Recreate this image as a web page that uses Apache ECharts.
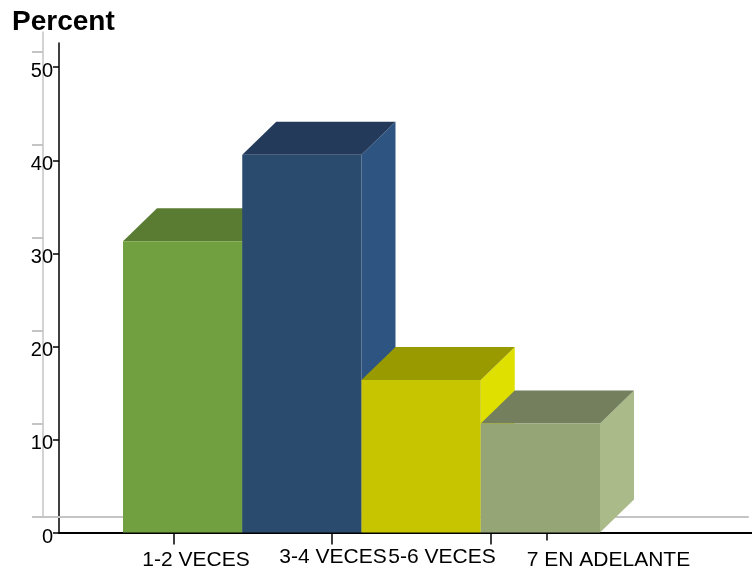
<!DOCTYPE html>
<html>
<head>
<meta charset="utf-8">
<script src="https://cdn.jsdelivr.net/npm/echarts@6/dist/echarts.min.js"></script>
<style>html,body{margin:0;padding:0;background:#fff;}#c{width:752px;height:573px;}</style>
</head>
<body>
<div id="c"></div>
<script>
const categories = ['1-2 VECES', '3-4 VECES', '5-6 VECES', '7 EN ADELANTE'];
const percents = [31.3, 40.6, 16.4, 11.7];
const yTicks = [0, 10, 20, 30, 40, 50];
const titleText = 'Percent';

const FONT = '"Liberation Sans", Arial, sans-serif';
const frontCol = ['#70A03F', '#2A4A6E', '#C6C500', '#95A576'];
const topCol   = ['#5A7C32', '#233A5A', '#999900', '#737F5D'];
const sideCol  = ['#62903A', '#2E5582', '#E0E000', '#AABA88'];
const DX = 34, DY = -33;

// label / tick placement along the front axis (in bar-width units)
const tickAtLong = [0.428, 1.753, 3.086];
const tickAtShort = [3.556];
const labelLow = [0.612, 4.071];   // categories 0 and 3
const labelHigh = [1.761, 2.675];  // categories 1 and 2
const labelIdxLow = [0, 3];
const labelIdxHigh = [1, 2];
function pick(list, idx) {
  return function (v) {
    let best = 0, d = Infinity;
    list.forEach((p, k) => { const e = Math.abs(p - v); if (e < d) { d = e; best = k; } });
    return categories[idx[best]];
  };
}

const chart = echarts.init(document.getElementById('c'), null, {renderer: 'canvas'});
const option = {
  animation: false,
  backgroundColor: '#fff',
  title: {
    text: titleText, left: 12, top: 8, padding: 0,
    textStyle: {fontFamily: FONT, fontSize: 28, fontWeight: 'bold', color: '#000'}
  },
  grid: [
    {left: 123, right: 152, top: 43, bottom: 40.5},
    {left: 59, right: 0, top: 43, bottom: 40.5},
    {left: 43, right: 4, top: 32, bottom: 56.3},
    {left: 59, right: 0, top: 47.5, bottom: 36}
  ],
  xAxis: [
    {gridIndex: 0, type: 'category', data: categories, show: false},
    {gridIndex: 1, type: 'value', min: -0.5367, max: 5.2746, position: 'bottom',
      axisLine: {show: true, onZero: false, lineStyle: {color: '#000', width: 2}},
      axisTick: {show: true, length: 12, customValues: tickAtLong, lineStyle: {color: '#000', width: 1.5}},
      splitLine: {show: false},
      axisLabel: {customValues: labelLow, formatter: pick(labelLow, labelIdxLow), margin: 17,
        fontFamily: FONT, fontSize: 21, color: '#000'}
    },
    {gridIndex: 1, type: 'value', min: -0.5367, max: 5.2746, position: 'bottom', offset: 0,
      axisLine: {show: false, onZero: false},
      axisTick: {show: true, length: 8, customValues: tickAtShort, lineStyle: {color: '#000', width: 1.5}},
      splitLine: {show: false},
      axisLabel: {customValues: labelHigh, formatter: pick(labelHigh, labelIdxHigh), margin: 14,
        fontFamily: FONT, fontSize: 21, color: '#000'}
    },
    {gridIndex: 2, type: 'value', min: 0, max: 1, position: 'bottom',
      axisLine: {show: true, onZero: false, lineStyle: {color: '#C4C4C4', width: 2}},
      axisTick: {show: false}, axisLabel: {show: false}, splitLine: {show: false}
    },
    {gridIndex: 3, type: 'value', min: 0, max: 1, show: false}
  ],
  yAxis: [
    {gridIndex: 0, type: 'value', min: 0, max: 52.6, show: false, splitLine: {show: false}},
    {gridIndex: 1, type: 'value', min: 0, max: 52.6, position: 'left',
      axisLine: {show: true, onZero: false, lineStyle: {color: '#000', width: 1.5}},
      axisTick: {show: true, length: 6, customValues: yTicks, lineStyle: {color: '#000', width: 1.5}},
      splitLine: {show: false},
      axisLabel: {show: false}
    },
    {gridIndex: 2, type: 'value', min: 0, max: 52.15, position: 'left',
      axisLine: {show: true, onZero: false, lineStyle: {color: '#C4C4C4', width: 1.5}},
      axisTick: {show: true, length: 11, customValues: yTicks, lineStyle: {color: '#C4C4C4', width: 2}},
      splitLine: {show: false}, axisLabel: {show: false}
    },
    {gridIndex: 3, type: 'value', min: 0, max: 52.6, position: 'left',
      axisLine: {show: false, onZero: false}, axisTick: {show: false}, splitLine: {show: false},
      axisLabel: {customValues: yTicks, margin: 6, fontFamily: FONT, fontSize: 20, color: '#000'}
    }
  ],
  series: [{
    type: 'custom',
    xAxisIndex: 0, yAxisIndex: 0,
    clip: false,
    data: percents.map((v, i) => [i, v]),
    renderItem: function (params, api) {
      const i = api.value(0), v = api.value(1);
      const pb = api.coord([i, 0]);
      const pt = api.coord([i, v]);
      const w = api.size([1, 0])[0];
      const x0 = pb[0] - w / 2, x1 = pb[0] + w / 2, yb = pb[1], yt = pt[1];
      const k = params.dataIndex;
      return {
        type: 'group',
        children: [
          {type: 'polygon', shape: {points: [[x1, yt], [x1 + DX, yt + DY], [x1 + DX, yb + DY], [x1, yb]]},
            style: {fill: sideCol[k]}},
          {type: 'polygon', shape: {points: [[x0, yt], [x1, yt], [x1 + DX, yt + DY], [x0 + DX, yt + DY]]},
            style: {fill: topCol[k]}},
          {type: 'rect', shape: {x: x0, y: yt, width: w, height: yb - yt},
            style: {fill: frontCol[k]}}
        ]
      };
    }
  }]
};
chart.setOption(option);
</script>
</body>
</html>
